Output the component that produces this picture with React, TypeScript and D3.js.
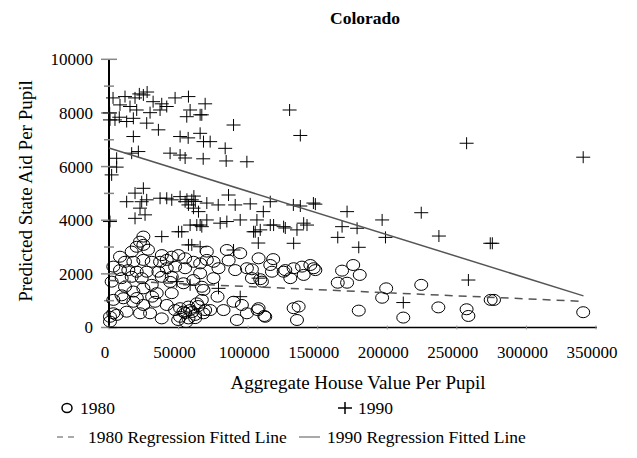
// @ts-nocheck
import React from 'react';
import * as d3 from 'd3';

// 1980 observations: [aggregate house value per pupil, predicted state aid per pupil]
const data1980 = [
  [24700, 3390], [19900, 3010], [24700, 3080], [16300, 2830], [7900, 2640], [11500, 2450],
  [17500, 2450], [24700, 2520], [30700, 2450], [36700, 2450], [41500, 2520], [45100, 2640],
  [49900, 2700], [54700, 2580], [60700, 2450], [65500, 2390], [70300, 2520], [3100, 2270],
  [7900, 2140], [13900, 2140], [19900, 2080], [27100, 2080], [35500, 2080], [41500, 2210],
  [47500, 2270], [54700, 2210], [65500, 2020], [1900, 1710], [9100, 1840], [16300, 1890],
  [23500, 1840], [30700, 1590], [37900, 1890], [45100, 1890], [53500, 1650], [60700, 1770],
  [66700, 1520], [11500, 1520], [17500, 1340], [24700, 1460], [3100, 1030], [10300, 1090],
  [17500, 960], [24700, 840], [33100, 960], [41500, 840], [51100, 720], [57100, 780],
  [63100, 900], [66700, 1030], [700, 400], [5500, 470], [12700, 590], [22300, 530],
  [29500, 530], [37900, 340], [51100, 400], [57100, 340], [61900, 470], [67900, 530],
  [53500, 590], [47500, 650], [54700, 540], [58300, 650], [61900, 350], [64100, 800],
  [49700, 280], [55400, 200], [59800, 580], [70300, 2830], [84700, 2890], [94300, 2770],
  [107500, 2580], [75100, 2450], [78700, 2210], [90700, 2140], [99100, 2210], [115900, 2330],
  [117100, 2080], [125500, 2080], [132700, 2210], [138700, 2270], [147100, 2210], [130300, 1840],
  [139900, 1960], [102700, 1840], [109900, 1710], [75100, 1840], [67900, 1400], [89500, 960],
  [95500, 840], [82300, 650], [72700, 650], [99100, 530], [107500, 720], [112300, 400],
  [91900, 280], [69100, 650], [132700, 720], [136300, 780], [135100, 280], [102700, 2170],
  [126700, 2140], [144700, 2330], [148300, 2140], [108700, 1800], [167500, 2120], [175500, 2330],
  [180200, 1960], [164400, 1670], [171100, 1670], [199200, 1460], [196300, 1110], [224400, 1590],
  [236700, 750], [211500, 370], [179500, 630], [106800, 650], [111600, 430], [257000, 680],
  [258300, 430], [274300, 1030], [276700, 1030], [340800, 570], [22300, 3200], [3100, 530],
  [700, 220], [34300, 1280], [45100, 1280], [28000, 2900], [38000, 2700], [9000, 1200],
  [86000, 2500], [118000, 2550], [20000, 1100], [31000, 1150], [44000, 1700], [78000, 1150],
];

// 1990 observations
const data1990 = [
  [21800, 8710], [11500, 8610], [18700, 8560], [24700, 8670], [31700, 8420], [37900, 8340],
  [47500, 8560], [57100, 8610], [7900, 8300], [15100, 8240], [19900, 8110], [29500, 8010],
  [41500, 8240], [36700, 8110], [65500, 7930], [58300, 8110], [4300, 7740], [12700, 7680],
  [17500, 7800], [27100, 7620], [35500, 7370], [500, 8000], [55900, 7860], [65500, 7240],
  [56900, 7070], [51100, 7120], [17500, 7120], [67900, 6930], [43900, 6500], [51100, 6430],
  [54700, 6320], [21100, 6560], [16300, 6500], [67700, 6290], [5500, 5980], [1900, 5690],
  [69100, 8340], [66700, 7930], [89500, 7550], [72700, 6930], [83500, 6680], [84200, 6210],
  [99100, 6180], [129800, 8110], [137500, 7160], [85900, 4940], [70300, 4640], [78500, 4570],
  [90700, 4570], [101500, 4610], [115900, 4690], [132500, 4570], [137500, 4530], [146900, 4640],
  [257000, 6870], [340800, 6350], [237100, 3410], [275500, 3140], [274000, 3140], [258300, 1770],
  [110900, 4320], [106300, 4010], [105100, 3570], [107300, 3150], [118300, 3820], [126700, 3710],
  [148300, 4600], [135100, 3640], [139900, 3890], [132700, 3140], [171100, 4320], [167500, 3760],
  [164400, 3360], [178300, 3700], [179500, 2990], [196300, 4010], [198700, 3360], [224400, 4280],
  [211500, 930], [24700, 5190], [18700, 5010], [12700, 4690], [23500, 4690], [27100, 4760],
  [22300, 4450], [18700, 4070], [25900, 4200], [36700, 4820], [41500, 4820], [45100, 4760],
  [51100, 4880], [54700, 4690], [57100, 4570], [59500, 4760], [60700, 4450], [64300, 4320],
  [63100, 3820], [66700, 3760], [58300, 3820], [37900, 3390], [52300, 3570], [700, 3950],
  [57100, 3080], [65500, 3010], [70300, 4010], [79900, 3890], [84700, 3950], [94300, 4010],
  [103900, 3570], [108700, 3640], [115900, 3820], [125500, 3760], [142300, 3820], [65500, 3820],
  [89500, 2890], [78700, 1460], [94300, 1150], [107500, 1840], [49900, 3570], [59500, 3080],
  [58300, 1590], [48700, 1710], [700, 7740], [7400, 7840], [5500, 6310], [27400, 8780],
  [2900, 8560], [61000, 4900], [56000, 4780], [62000, 4700],
];

// regression fitted lines (end points)
const reg1980 = [[0, 1755], [340000, 975]];
const reg1990 = [[0, 6690], [341000, 1180]];

const xTicks = [0, 50000, 100000, 150000, 200000, 250000, 300000, 350000];
const yTicks = [0, 2000, 4000, 6000, 8000, 10000];
const yMinor = [1000, 3000, 5000, 7000, 9000];

const W = 637;
const H = 458;
const font = '"Liberation Serif", "Times New Roman", serif';
const gray = '#555';

const x = d3.scaleLinear().domain([0, 350000]).range([109, 596]);
const y = d3.scaleLinear().domain([0, 10000]).range([327.5, 59.3]);
const line = d3.line().x(d => x(d[0])).y(d => y(d[1]));

const Cross = ({ cx, cy, s = 7 }) => (
  <path d={`M${cx - s},${cy}H${cx + s}M${cx},${cy - s + 1}V${cy + s - 1}`} stroke="#000" strokeWidth={1} fill="none" />
);

const App = () => {
  return (
    <svg width={W} height={H} style={{ position: 'absolute', left: 0, top: 0, background: '#fff' }} fontFamily={font}>
      <text x={365} y={24} textAnchor="middle" fontSize={17.5} fontWeight="bold">Colorado</text>

      {/* y axis */}
      <line x1={x(0)} x2={x(0)} y1={y(10000)} y2={y(0)} stroke="#000" strokeWidth={2} />
      {yTicks.map(t => (
        <g key={t}>
          <line x1={x(0) - 8} x2={x(0) + 8} y1={y(t)} y2={y(t)} stroke="#888" strokeWidth={1.5} />
          <text x={93} y={y(t)} dy="0.35em" textAnchor="end" fontSize={17}>{t}</text>
        </g>
      ))}
      {yMinor.map(t => (
        <line key={t} x1={x(0) - 5} x2={x(0) + 5} y1={y(t)} y2={y(t)} stroke="#888" strokeWidth={1.5} />
      ))}

      {/* x axis */}
      <line x1={x(0)} x2={x(350000) + 1} y1={y(0)} y2={y(0)} stroke="#000" strokeWidth={1.5} />
      {xTicks.map(t => (
        <g key={t}>
          <line x1={x(t)} x2={x(t)} y1={y(0) - 2} y2={y(0) + 2} stroke="#999" strokeWidth={1} />
          <text x={x(t) - 4} y={358} textAnchor="middle" fontSize={17}>{t}</text>
        </g>
      ))}

      <text x={358} y={389} textAnchor="middle" fontSize={19}>Aggregate House Value Per Pupil</text>
      <text transform="translate(32,191) rotate(-90)" textAnchor="middle" fontSize={19}>Predicted State Aid Per Pupil</text>

      {/* points */}
      {data1980.map((d, i) => (
        <ellipse key={'a' + i} cx={x(d[0])} cy={y(d[1])} rx={6.5} ry={5.5} fill="none" stroke="#000" strokeWidth={1} />
      ))}
      {data1990.map((d, i) => (
        <Cross key={'b' + i} cx={x(d[0])} cy={y(d[1])} />
      ))}

      {/* regression lines */}
      <path d={line(reg1990)} stroke={gray} strokeWidth={1.5} fill="none" />
      <path d={line(reg1980)} stroke={gray} strokeWidth={1.5} fill="none" strokeDasharray="8,6" />

      {/* legend */}
      <ellipse cx={67} cy={408} rx={5} ry={4.5} fill="none" stroke="#000" strokeWidth={1.5} />
      <text x={80} y={408} dy="0.35em" fontSize={17.5}>1980</text>
      <path d="M338,408H352M345,402V414" stroke="#000" strokeWidth={1.5} />
      <text x={358} y={408} dy="0.35em" fontSize={17.5}>1990</text>

      <line x1={57} x2={78} y1={437} y2={437} stroke={gray} strokeWidth={1} strokeDasharray="6,5" />
      <text x={88} y={437} dy="0.35em" fontSize={17.5}>1980 Regression Fitted Line</text>
      <line x1={299} x2={320} y1={437} y2={437} stroke={gray} strokeWidth={1} />
      <text x={327} y={437} dy="0.35em" fontSize={17.5}>1990 Regression Fitted Line</text>
    </svg>
  );
};

export default App;
